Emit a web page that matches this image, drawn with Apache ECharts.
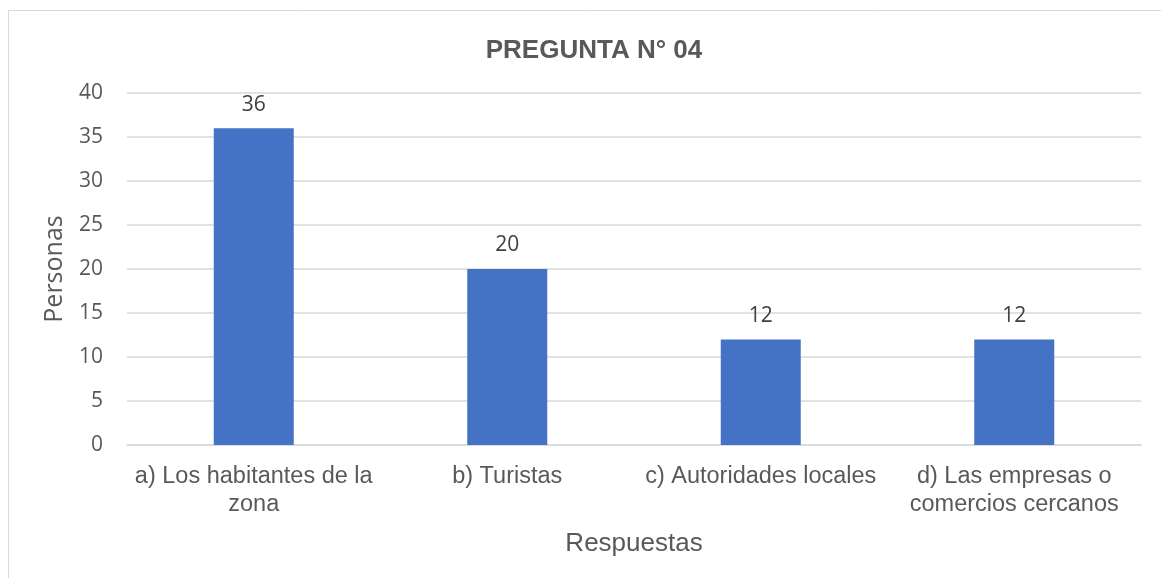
<!DOCTYPE html>
<html>
<head>
<meta charset="utf-8">
<script src="https://cdn.jsdelivr.net/npm/echarts@6/dist/echarts.min.js"></script>
<style>
    html, body { margin: 0; padding: 0; background: #fff; }
    #chart { width: 1161px; height: 578px; }
</style>
</head>
<body>
<div id="chart"></div>
<script>
    // datos del gráfico
    const categorias = ['a) Los habitantes de la\nzona', 'b) Turistas', 'c) Autoridades locales', 'd) Las empresas o\ncomercios cercanos'];
    const personas = [36, 20, 12, 12];
    const ticksY = { min: 0, max: 40, interval: 5 };

    let myChart = echarts.init(document.getElementById('chart'));
    let option = {
        animation: false,
        graphic: [
            {
                type: 'rect',
                shape: { x: 8.5, y: 10.5, width: 1170, height: 600 },
                style: { fill: 'none', stroke: '#d9d9d9', lineWidth: 1 },
                silent: true
            }
        ],
        title: {
            text: 'PREGUNTA N° 04',
            left: 589,
            textAlign: 'center',
            top: 33,
            textStyle: {
                color: '#595959',
                fontSize: 26,
                fontWeight: 'bold',
                fontFamily: 'Liberation Sans'
            }
        },
        grid: {
            left: 127,
            right: 20,
            top: 93,
            bottom: 133
        },
        xAxis: {
            type: 'category',
            data: categorias,
            name: 'Respuestas',
            nameLocation: 'middle',
            nameGap: 86,
            nameTextStyle: { color: '#595959', fontSize: 26, fontFamily: 'Liberation Sans' },
            axisLine: { lineStyle: { color: '#d9d9d9', width: 1.5 } },
            axisTick: { show: false },
            axisLabel: {
                interval: 0,
                color: '#595959',
                fontSize: 23.5,
                fontFamily: 'Liberation Sans',
                lineHeight: 28,
                margin: 18
            }
        },
        yAxis: {
            type: 'value',
            min: ticksY.min,
            max: ticksY.max,
            interval: ticksY.interval,
            name: 'Personas',
            nameLocation: 'middle',
            nameGap: 60,
            nameTextStyle: { color: '#595959', fontSize: 25, fontFamily: 'Open Sans' },
            axisLine: { show: false },
            axisTick: { show: false },
            axisLabel: {
                color: '#595959',
                fontSize: 21,
                fontFamily: 'Open Sans',
                margin: 24
            },
            splitLine: { lineStyle: { color: '#d9d9d9', width: 1.5 } }
        },
        series: [
            {
                name: 'Personas',
                type: 'bar',
                data: personas,
                barWidth: 80,
                itemStyle: { color: '#4472c4' },
                label: {
                    show: true,
                    position: 'top',
                    distance: 13,
                    color: '#404040',
                    fontSize: 21,
                    fontFamily: 'Open Sans'
                }
            }
        ]
    };
    myChart.setOption(option);
</script>
</body>
</html>
